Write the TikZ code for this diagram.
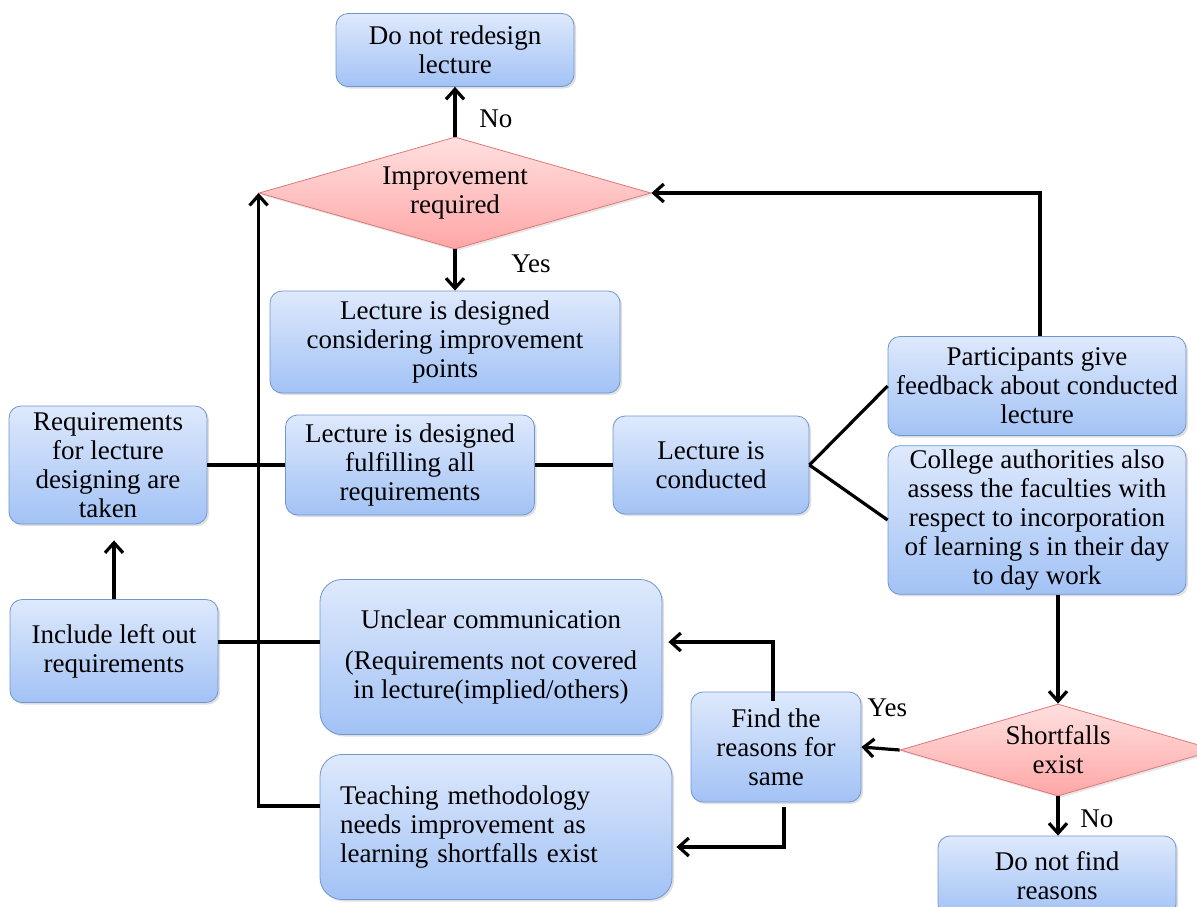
\documentclass[tikz,border=0pt]{standalone}
\usepackage{fontspec}
\setmainfont{Liberation Serif}
\usetikzlibrary{arrows.meta,shapes.geometric,shadows}
\definecolor{boxline}{RGB}{112,150,208}
\definecolor{boxtop}{RGB}{222,233,252}
\definecolor{boxbot}{RGB}{162,194,245}
\definecolor{decline}{RGB}{222,120,120}
\definecolor{dectop}{RGB}{255,224,224}
\definecolor{decbot}{RGB}{255,166,166}

\begin{document}
\begin{tikzpicture}[
      x=0.5pt, y=-0.5pt,
      font=\fontsize{13.5}{14.5}\selectfont,
      stepbox/.style={draw=boxline, thin, rounded corners=6pt, top color=boxtop, bottom color=boxbot,
        align=center, inner sep=2pt, drop shadow={opacity=0.25, shadow xshift=1pt, shadow yshift=-1pt}},
      bigbox/.style={stepbox, rounded corners=11pt},
      decision/.style={diamond, draw=decline, thin, top color=dectop, bottom color=decbot,
        align=center, inner sep=0pt, drop shadow={opacity=0.2, shadow xshift=1pt, shadow yshift=-1pt}},
      link/.style={line width=1.6pt},
      flow/.style={line width=1.6pt, -{Straight Barb[length=5pt,width=9pt,line width=1.6pt]}}
    ]
    \useasboundingbox (0,0) rectangle (1197,906);
    % Draw the boxes.
    \node[stepbox, minimum width=119pt, minimum height=36.5pt] (nored) at (455,50) {Do not redesign\\lecture};
    \node[decision, aspect=3.5, minimum width=196pt, minimum height=56pt] (improve) at (455,193) {Improvement\\required};
    \node[stepbox, minimum width=175pt, minimum height=51pt] (consider) at (445,342) {Lecture is designed\\considering improvement\\points};
    \node[stepbox, minimum width=99pt, minimum height=59pt] (req) at (108,465) {Requirements\\for lecture\\designing are\\taken};
    \node[stepbox, minimum width=124.5pt, minimum height=50pt] (fulfil) at (410,465) {Lecture is designed\\fulfilling all\\requirements};
    \node[stepbox, minimum width=98pt, minimum height=49pt] (conduct) at (711,465) {Lecture is\\conducted};
    \node[stepbox, minimum width=149pt, minimum height=49.5pt] (feedback) at (1037,386) {Participants give\\feedback about conducted\\lecture};
    \node[stepbox, minimum width=149pt, minimum height=71.5pt] (college) at (1037,520) {College authorities also\\assess the faculties with\\respect to incorporation\\of learning s in their day\\to day work};
    \node[stepbox, minimum width=104pt, minimum height=51.5pt] (include) at (114,651) {Include left out\\requirements};
    \node[bigbox, minimum width=171pt, minimum height=77.5pt] (unclear) at (491,657) {Unclear communication\\[6pt](Requirements not covered\\in lecture(implied/others)};
    \node[stepbox, minimum width=85pt, minimum height=55pt] (reasons) at (776,747) {Find the\\reasons for\\same};
    \node[bigbox, minimum width=176pt, minimum height=72.5pt, text width=156pt, inner xsep=10pt, align=left] (teach) at (496,827) {Teaching methodology\\needs improvement as\\learning shortfalls exist};
    \node[decision, aspect=3.4, minimum width=158pt, minimum height=46pt] (shortfall) at (1058,750) {Shortfalls\\exist};
    \node[stepbox, minimum width=119pt, minimum height=40pt] (nofind) at (1057,876) {Do not find\\reasons};
    % Draw the decisions.
    \draw[flow] (improve.north) -- (nored.south) node[pos=0.35, right=8pt] {No};
    \draw[flow] (improve.south) -- (improve.south |- consider.north) node[pos=0.36, right=24pt] {Yes};
    \draw[flow] (college.south -| shortfall.north) -- (shortfall.north);
    \draw[flow] (shortfall.west) -- (reasons.east)
      node[at start, anchor=south east, inner sep=0pt, xshift=4.5pt, yshift=16pt] {Yes};
    \draw[flow] (shortfall.south) -- (shortfall.south |- nofind.north) node[pos=0.57, right=7pt] {No};
    % Draw the links.
    \draw[link] (req.east) -- (fulfil.west);
    \draw[link] (fulfil.east) -- (conduct.west);
    \draw[link] (conduct.east) -- (feedback.west);
    \draw[link] (conduct.east) -- (college.west);
    \draw[link] ([yshift=4.5pt]include.east) -- ([yshift=4.5pt]include.east -| unclear.west);
    \draw[flow, shorten >=8pt] (include.north) -- (include.north |- req.south);
    \draw[flow] ([xshift=1.5pt]feedback.north) |- (improve.east);
    \draw[flow] ([yshift=10.5pt]teach.west) -| (improve.west);
    \draw[flow, shorten <=-4.5pt, shorten >=3pt] ([xshift=-1.5pt]reasons.north) |- ([yshift=7.5pt]unclear.east);
    \draw[flow, shorten <=2.5pt, shorten >=2pt] ([xshift=4pt]reasons.south) |- ([yshift=-10pt]teach.east);
\end{tikzpicture}
\end{document}
